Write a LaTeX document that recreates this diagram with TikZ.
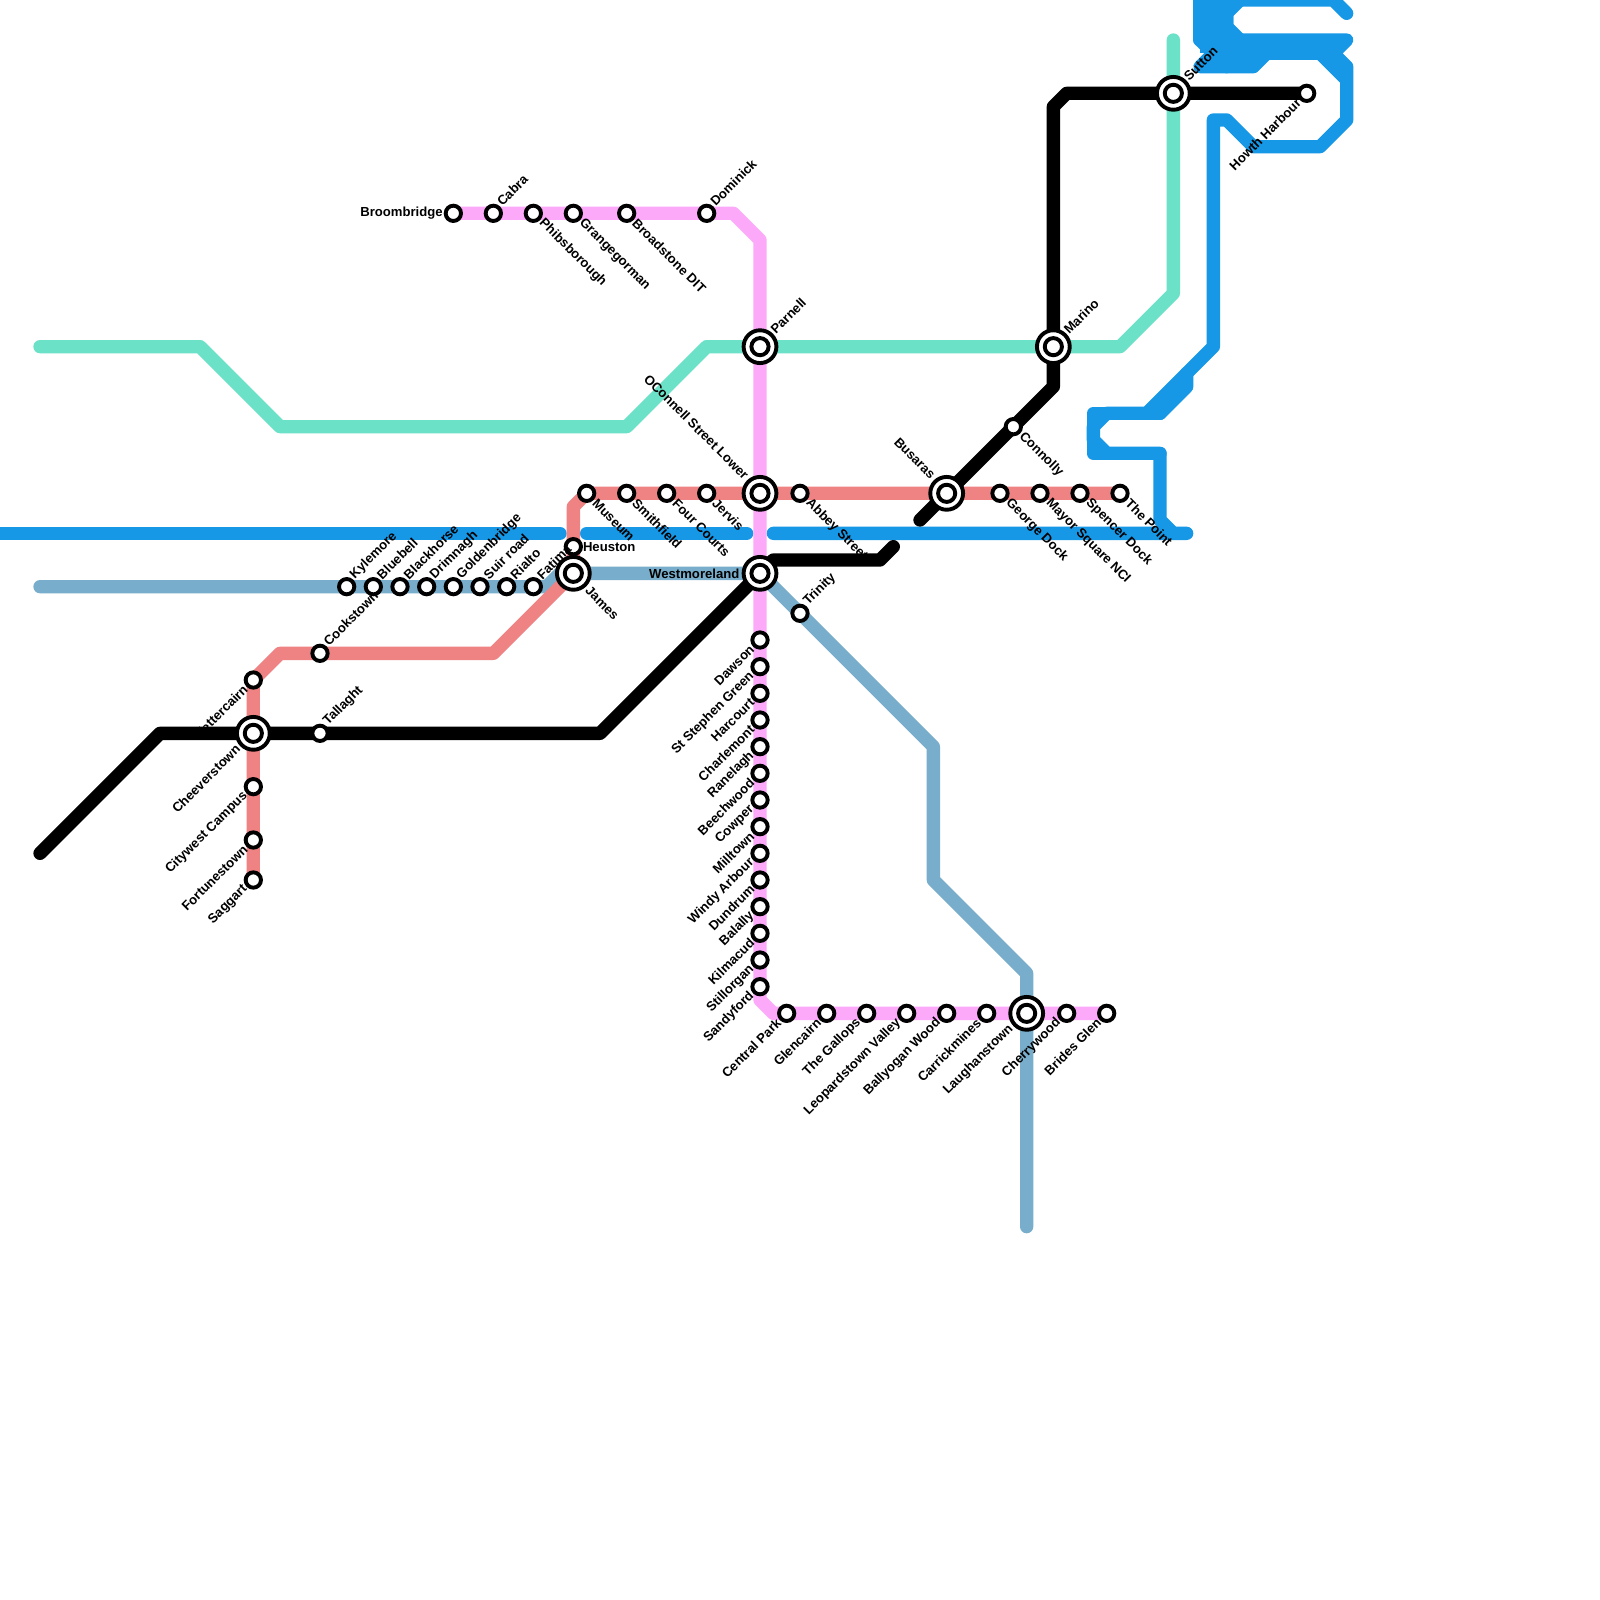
\documentclass[tikz,border=0pt]{standalone}
\usepackage{fontspec}
\setmainfont{Liberation Sans}
\usetikzlibrary{backgrounds}
\definecolor{cteal}{HTML}{6BE2C8}
\definecolor{cblue}{HTML}{1698E7}
\definecolor{cred}{HTML}{EF8383}
\definecolor{cpink}{HTML}{FCA9FA}
\definecolor{cgray}{HTML}{78AECB}
\tikzset{
  metro/.style={line width=8.53pt,line join=round,line cap=round},
  stnbox/.style={circle,draw=black,fill=white,line width=2.5pt,minimum size=9.8pt,inner sep=0pt},
  hubout/.style={circle,draw=black,fill=white,line width=2.5pt,minimum size=21pt,inner sep=0pt},
  hubin/.style={circle,draw=black,fill=white,line width=2.5pt,minimum size=11pt,inner sep=0pt},
  lbl/.style={inner sep=0pt,font=\bfseries\fontsize{8.4pt}{9pt}\selectfont,text=black},
  ne/.style={lbl,shift={(3.6pt,6.2pt)},anchor=west,rotate=45},
  se/.style={lbl,shift={(5pt,-5pt)},anchor=west,rotate=-45},
  sw/.style={lbl,shift={(-5pt,-4.6pt)},anchor=east,rotate=45},
  nw/.style={lbl,shift={(-4.6pt,4.6pt)},anchor=east,rotate=-45},
  ee/.style={lbl,shift={(6pt,0pt)},anchor=west},
  ww/.style={lbl,shift={(-6.6pt,0pt)},anchor=east},
  hne/.style={lbl,shift={(8pt,9.6pt)},anchor=west,rotate=45},
  hse/.style={lbl,shift={(9.1pt,-9.6pt)},anchor=west,rotate=-45},
  hsw/.style={lbl,shift={(-9.8pt,-8.6pt)},anchor=east,rotate=45},
  hnw/.style={lbl,shift={(-8.5pt,10.5pt)},anchor=east,rotate=-45},
  hww/.style={lbl,shift={(-13pt,0pt)},anchor=east},
}
% \stn{id}{x}{y}{label style}{text}
\newcommand{\stn}[5]{\node[stnbox] (#1) at (#2,#3) {};\node[#4] (#1-t) at (#2,#3) {#5};}
\newcommand{\hub}[5]{\node[hubout] (#1) at (#2,#3) {};\node[hubin] (#1-i) at (#2,#3) {};\node[#4] (#1-t) at (#2,#3) {#5};}
\begin{document}
\begin{tikzpicture}[x=0.3cm,y=-0.3cm]
\useasboundingbox (0,0) rectangle (120,120);
\clip (0,0) rectangle (120,120);
% pink line stations
\stn{broom}{34}{16}{ww}{Broombridge}
\stn{cabra}{37}{16}{ne}{Cabra}
\stn{phib}{40}{16}{se}{Phibsborough}
\stn{grange}{43}{16}{se}{Grangegorman}
\stn{broad}{47}{16}{se}{Broadstone DIT}
\stn{domin}{53}{16}{ne}{Dominick}
\hub{parnell}{57}{26}{hne}{Parnell}
\hub{ocon}{57}{37}{hnw}{OConnell Street Lower}
\hub{west}{57}{43}{hww}{Westmoreland}
\stn{dawson}{57}{48}{sw}{Dawson}
\stn{stephen}{57}{50}{sw}{St Stephen Green}
\stn{harc}{57}{52}{sw}{Harcourt}
\stn{charl}{57}{54}{sw}{Charlemont}
\stn{ranel}{57}{56}{sw}{Ranelagh}
\stn{beech}{57}{58}{sw}{Beechwood}
\stn{cowp}{57}{60}{sw}{Cowper}
\stn{millt}{57}{62}{sw}{Milltown}
\stn{windy}{57}{64}{sw}{Windy Arbour}
\stn{dund}{57}{66}{sw}{Dundrum}
\stn{balal}{57}{68}{sw}{Balally}
\stn{kilm}{57}{70}{sw}{Kilmacud}
\stn{still}{57}{72}{sw}{Stillorgan}
\stn{sandy}{57}{74}{sw}{Sandyford}
\stn{central}{59}{76}{sw}{Central Park}
\stn{glenc}{62}{76}{sw}{Glencairn}
\stn{gallops}{65}{76}{sw}{The Gallops}
\stn{leop}{68}{76}{sw}{Leopardstown Valley}
\stn{ballyo}{71}{76}{sw}{Ballyogan Wood}
\stn{carrick}{74}{76}{sw}{Carrickmines}
\hub{laugh}{77}{76}{hsw}{Laughanstown}
\stn{cherry}{80}{76}{sw}{Cherrywood}
\stn{brides}{83}{76}{sw}{Brides Glen}
% red line stations
\stn{saggart}{19}{66}{sw}{Saggart}
\stn{fortune}{19}{63}{sw}{Fortunestown}
\stn{cityw}{19}{59}{sw}{Citywest Campus}
\hub{cheever}{19}{55}{hsw}{Cheeverstown}
\stn{fetter}{19}{51}{sw}{Fettercairn}
\stn{cooks}{24}{49}{ne}{Cookstown}
\hub{james}{43}{43}{hse}{James}
\stn{heuston}{43}{41}{ee}{Heuston}
\stn{museum}{44}{37}{se}{Museum}
\stn{smith}{47}{37}{se}{Smithfield}
\stn{fourc}{50}{37}{se}{Four Courts}
\stn{jervis}{53}{37}{se}{Jervis}
\stn{abbey}{60}{37}{se}{Abbey Street}
\hub{busaras}{71}{37}{hnw}{Busaras}
\stn{george}{75}{37}{se}{George Dock}
\stn{mayor}{78}{37}{se}{Mayor Square NCI}
\stn{spencer}{81}{37}{se}{Spencer Dock}
\stn{point}{84}{37}{se}{The Point}
% grey line stations
\stn{kyle}{26}{44}{ne}{Kylemore}
\stn{blueb}{28}{44}{ne}{Bluebell}
\stn{blackh}{30}{44}{ne}{Blackhorse}
\stn{drim}{32}{44}{ne}{Drimnagh}
\stn{golden}{34}{44}{ne}{Goldenbridge}
\stn{suir}{36}{44}{ne}{Suir road}
\stn{rialto}{38}{44}{ne}{Rialto}
\stn{fatima}{40}{44}{ne}{Fatima}
\stn{trinity}{60}{46}{ne}{Trinity}
% black line stations
\stn{tallaght}{24}{55}{ne}{Tallaght}
\stn{connolly}{76}{32}{se}{Connolly}
\hub{marino}{79}{26}{hne}{Marino}
\hub{sutton}{88}{7}{hne}{Sutton}
\stn{howth}{98}{7}{sw}{Howth Harbour}
% lines
\begin{scope}[on background layer]
\fill[white] (0,0) rectangle (120,120);
\draw[metro,cgray] (3,44) -- (kyle.center) -- (blueb.center) -- (blackh.center) -- (drim.center) -- (golden.center) -- (suir.center) -- (rialto.center) -- (fatima.center) -- (41,44) -- (42,43) -- (james.center) -- (west.center) -- (58,44) -- (trinity.center) -- (70,56) -- (70,66) -- (77,73) -- (laugh.center) -- (77,92);
\draw[metro,cteal] (3,26) -- (15,26) -- (21,32) -- (47,32) -- (53,26) -- (parnell.center) -- (marino.center) -- (84,26) -- (88,22) -- (sutton.center) -- (88,3);
\begin{scope}[metro,cblue]
\draw (-1,40) -- (42,40);
\draw (44,40) -- (56,40);
\draw (58,40) -- (89,40) -- (88,40) -- (87,39) -- (87,34) -- (83,34) -- (82,33) -- (82,32) -- (83,31) -- (86,31) -- (91,26) -- (91,9) -- (92,9) -- (94,11) -- (99,11) -- (101,9) -- (101,6) -- (99,4) -- (95,4) -- (94,5) -- (90,5) -- (92,3) -- (101,3) -- (100,4) -- (101,5) -- (101,6);
\draw (87,34) -- (82,34) -- (82,31) -- (83,31);
\draw (87,31) -- (89,29) -- (89,28);
\draw (86,31) -- (87,31);
\draw (90,3) -- (92,5);
\draw (92,1) -- (92,2) -- (93,3);
\draw (92,4) -- (92,1) -- (93,0);
\draw (90,0) -- (100,0) -- (101,1);
\draw (90,0) -- (90,3);
\draw (91,4) -- (100,4);
\fill[cblue,line width=0pt] (90,0) rectangle (92,4);
\fill[cblue,line width=0pt] (91,3) rectangle (100,4);
\end{scope}
\draw[metro,cred] (saggart.center) -- (fortune.center) -- (cityw.center) -- (cheever.center) -- (fetter.center) -- (21,49) -- (cooks.center) -- (37,49) -- (james.center) -- (heuston.center) -- (43,38) -- (museum.center) -- (smith.center) -- (fourc.center) -- (jervis.center) -- (ocon.center) -- (abbey.center) -- (busaras.center) -- (george.center) -- (mayor.center) -- (spencer.center) -- (point.center);
\draw[metro,cpink] (broom.center) -- (cabra.center) -- (phib.center) -- (grange.center) -- (broad.center) -- (domin.center) -- (55,16) -- (57,18) -- (parnell.center) -- (ocon.center) -- (west.center) -- (dawson.center) -- (sandy.center) -- (57,75) -- (58,76) -- (central.center) -- (glenc.center) -- (gallops.center) -- (leop.center) -- (ballyo.center) -- (carrick.center) -- (laugh.center) -- (cherry.center) -- (brides.center);
\draw[metro,black] (3,64) -- (12,55) -- (cheever.center) -- (tallaght.center) -- (45,55) -- (west.center) -- (58,42) -- (66,42) -- (67,41);
\draw[metro,black] (69,39) -- (busaras.center) -- (connolly.center) -- (79,29) -- (marino.center) -- (79,8) -- (80,7) -- (sutton.center) -- (howth.center);
\end{scope}
\end{tikzpicture}
\end{document}
